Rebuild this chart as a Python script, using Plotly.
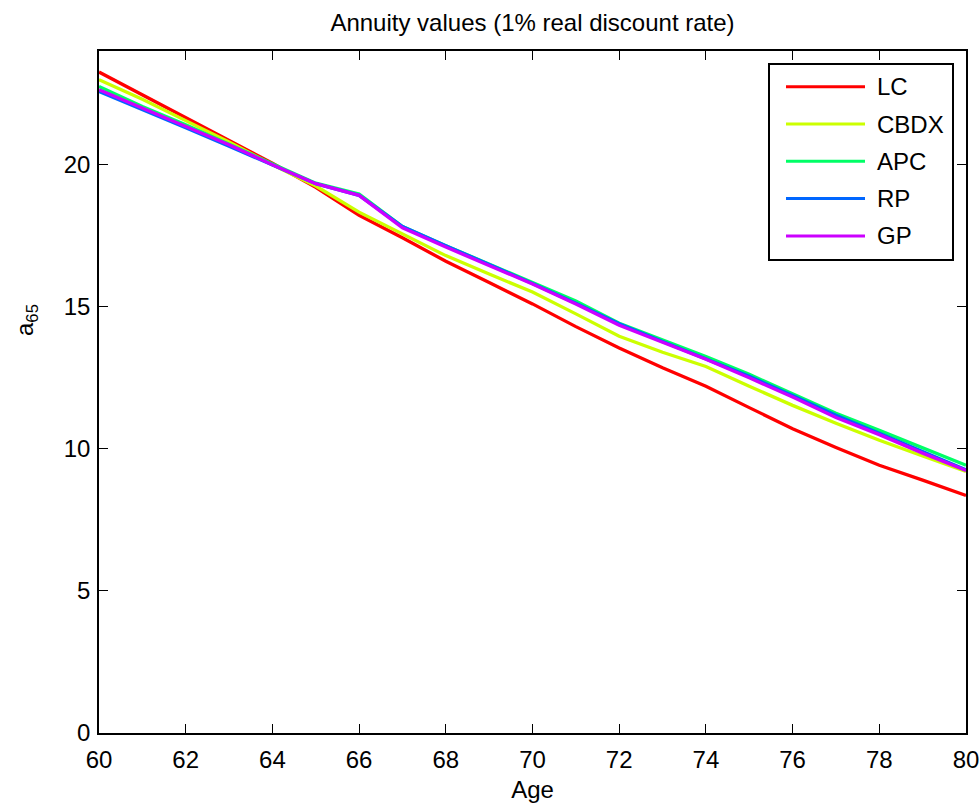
import plotly.graph_objects as go

ages = list(range(60, 81))

lc = [23.26, 22.45, 21.65, 20.85, 20.05, 19.2, 18.22, 17.43, 16.6, 15.85, 15.1,
      14.3, 13.55, 12.85, 12.2, 11.45, 10.71, 10.05, 9.42, 8.9, 8.36]
cbdx = [22.99, 22.3, 21.55, 20.8, 20.0, 19.25, 18.33, 17.57, 16.8, 16.15, 15.52,
        14.75, 13.96, 13.4, 12.9, 12.2, 11.53, 10.9, 10.3, 9.75, 9.2]
apc = [22.75, 22.05, 21.4, 20.72, 20.05, 19.35, 18.97, 17.82, 17.15, 16.5, 15.85,
       15.2, 14.42, 13.83, 13.25, 12.62, 11.95, 11.25, 10.65, 10.05, 9.42]
rp = [22.58, 21.95, 21.3, 20.65, 20.0, 19.33, 18.92, 17.82, 17.15, 16.5, 15.82,
      15.12, 14.4, 13.78, 13.18, 12.55, 11.88, 11.18, 10.55, 9.9, 9.26]
gp = [22.64, 22.0, 21.35, 20.7, 20.0, 19.33, 18.92, 17.78, 17.1, 16.45, 15.8,
      15.1, 14.35, 13.75, 13.15, 12.5, 11.82, 11.1, 10.5, 9.85, 9.24]

names = ["LC", "CBDX", "APC", "RP", "GP"]
series = [lc, cbdx, apc, rp, gp]
colors = ["#FF0000", "#CCFF00", "#00FF66", "#0066FF", "#CC00FF"]

x_ticks = list(range(60, 81, 2))
y_ticks = [0, 5, 10, 15, 20]

FONT = "Liberation Sans, Arial, sans-serif"
W, H = 980, 804
ML, MR, MT, MB = 99, 14, 51, 71
PW, PH = W - ML - MR, H - MT - MB


def px_x(p):
    return (p - ML) / PW


def px_y(p):
    return (H - MB - p) / PH


fig = go.Figure()
for name, vals, col in zip(names, series, colors):
    fig.add_trace(go.Scatter(x=ages, y=vals, mode="lines", name=name,
                             line=dict(color=col, width=3.3), showlegend=False))

axis_common = dict(showline=True, linecolor="black", linewidth=1.5, mirror="ticks",
                   ticks="inside", ticklen=9, tickwidth=1.2, tickcolor="black",
                   showgrid=False, zeroline=False, automargin=False,
                   tickfont=dict(family=FONT, size=24, color="black"))

fig.update_layout(
    width=W, height=H,
    margin=dict(l=ML, r=MR, t=MT, b=MB),
    paper_bgcolor="white", plot_bgcolor="white",
    font=dict(family=FONT, size=24, color="black"),
    title=dict(text="Annuity values (1% real discount rate)", x=(ML + PW / 2) / W,
               xanchor="center", y=1 - 23 / H, yanchor="middle",
               font=dict(family=FONT, size=24, color="black")),
    xaxis=dict(range=[60, 80], tickvals=x_ticks,
               ticktext=[str(t) for t in x_ticks], ticklabelstandoff=4,
               title=dict(text="Age", standoff=10,
                          font=dict(family=FONT, size=24)),
               **axis_common),
    yaxis=dict(range=[0, 24], tickvals=y_ticks,
               ticktext=[str(t) for t in y_ticks], ticklabelstandoff=2,
               **axis_common),
)

# y-axis label
fig.add_annotation(text="a<sub>65</sub>", textangle=-90, xref="paper", yref="paper",
                   x=px_x(26), y=px_y(320), xanchor="center", yanchor="middle",
                   showarrow=False, font=dict(family=FONT, size=24, color="black"))

# legend box (manual, MATLAB style)
box_l, box_r, box_t, box_b = 769, 953, 64, 260
fig.add_shape(type="rect", xref="paper", yref="paper",
              x0=px_x(box_l), x1=px_x(box_r), y0=px_y(box_b), y1=px_y(box_t),
              line=dict(color="black", width=2), fillcolor="white", layer="above")
y0_item, gap = 86.7, 37.3
for i, (name, col) in enumerate(zip(names, colors)):
    yy = y0_item + i * gap
    fig.add_shape(type="line", xref="paper", yref="paper",
                  x0=px_x(786), x1=px_x(865), y0=px_y(yy), y1=px_y(yy),
                  line=dict(color=col, width=3), layer="above")
    fig.add_annotation(text=name, xref="paper", yref="paper",
                       x=px_x(875), y=px_y(yy), xanchor="left", yanchor="middle",
                       showarrow=False, font=dict(family=FONT, size=24, color="black"))

fig.write_html("out.html")
